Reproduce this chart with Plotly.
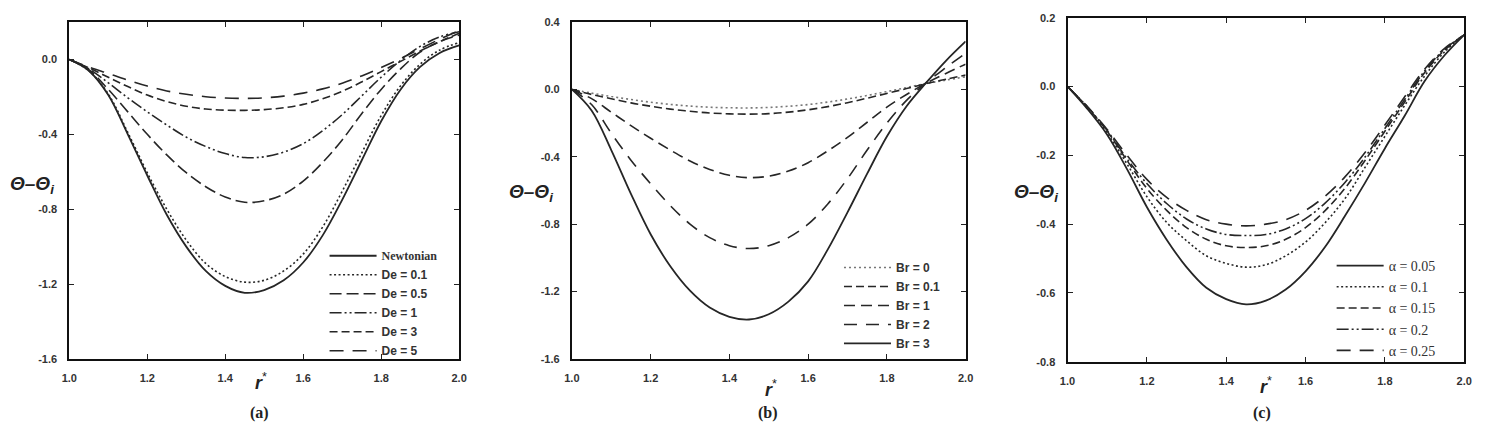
import plotly.graph_objects as go

W, H = 1491, 431

# ---------------- data ----------------
R = [1.0, 1.05, 1.1, 1.15, 1.2, 1.25, 1.3, 1.35, 1.4, 1.45, 1.5,
     1.55, 1.6, 1.65, 1.7, 1.75, 1.8, 1.85, 1.9, 1.95, 2.0]

# panel (a): effect of De
newtonian = [0, -0.06, -0.19, -0.40, -0.62, -0.83, -1.0, -1.13, -1.21, -1.247, -1.232,
             -1.18, -1.085, -0.94, -0.75, -0.54, -0.33, -0.16, -0.04, 0.035, 0.075]
de_01 = [0, -0.06, -0.185, -0.39, -0.605, -0.80, -0.965, -1.09, -1.16, -1.19, -1.18,
         -1.13, -1.04, -0.895, -0.705, -0.50, -0.30, -0.14, -0.025, 0.05, 0.09]
de_05 = [0, -0.055, -0.16, -0.28, -0.40, -0.51, -0.605, -0.68, -0.735, -0.763, -0.755,
         -0.72, -0.65, -0.55, -0.43, -0.29, -0.16, -0.05, 0.04, 0.095, 0.13]
de_1 = [0, -0.05, -0.125, -0.205, -0.28, -0.35, -0.415, -0.465, -0.503, -0.524, -0.52,
        -0.495, -0.45, -0.38, -0.295, -0.195, -0.095, -0.005, 0.07, 0.12, 0.148]
de_3 = [0, -0.045, -0.095, -0.145, -0.19, -0.225, -0.25, -0.265, -0.271, -0.272, -0.268,
        -0.258, -0.24, -0.21, -0.17, -0.12, -0.065, -0.01, 0.045, 0.095, 0.14]
de_5 = [0, -0.04, -0.075, -0.11, -0.142, -0.168, -0.186, -0.199, -0.206, -0.208, -0.205,
        -0.196, -0.18, -0.157, -0.127, -0.088, -0.043, 0.005, 0.057, 0.108, 0.155]

# panel (b): effect of Br
br_0 = [0, -0.022, -0.042, -0.06, -0.076, -0.089, -0.099, -0.106, -0.109, -0.11, -0.107,
        -0.1, -0.09, -0.075, -0.057, -0.036, -0.013, 0.011, 0.035, 0.055, 0.075]
br_01 = [0, -0.03, -0.055, -0.08, -0.1, -0.117, -0.13, -0.14, -0.145, -0.147, -0.144,
         -0.135, -0.121, -0.102, -0.079, -0.052, -0.024, 0.005, 0.035, 0.06, 0.085]
br_1 = [0, -0.055, -0.135, -0.215, -0.29, -0.36, -0.425, -0.475, -0.51, -0.524, -0.515,
        -0.485, -0.435, -0.365, -0.285, -0.195, -0.105, -0.03, 0.037, 0.095, 0.15]
br_2 = [0, -0.09, -0.26, -0.42, -0.56, -0.69, -0.8, -0.88, -0.928, -0.945, -0.928,
        -0.88, -0.8, -0.68, -0.53, -0.36, -0.2, -0.065, 0.04, 0.13, 0.215]
br_3 = [0, -0.125, -0.36, -0.62, -0.86, -1.05, -1.195, -1.295, -1.35, -1.366, -1.335,
        -1.26, -1.14, -0.95, -0.73, -0.50, -0.28, -0.10, 0.04, 0.17, 0.285]

# panel (c): effect of alpha
al_005 = [0, -0.065, -0.14, -0.24, -0.35, -0.445, -0.525, -0.585, -0.618, -0.633, -0.622,
          -0.59, -0.537, -0.465, -0.375, -0.28, -0.18, -0.085, 0.015, 0.09, 0.15]
al_01 = [0, -0.062, -0.135, -0.225, -0.32, -0.395, -0.448, -0.492, -0.514, -0.525, -0.518,
         -0.492, -0.452, -0.395, -0.325, -0.235, -0.145, -0.055, 0.03, 0.1, 0.15]
al_015 = [0, -0.06, -0.13, -0.215, -0.296, -0.36, -0.41, -0.444, -0.463, -0.468, -0.463,
          -0.444, -0.41, -0.36, -0.295, -0.215, -0.13, -0.045, 0.04, 0.105, 0.15]
al_02 = [0, -0.059, -0.128, -0.21, -0.282, -0.34, -0.385, -0.414, -0.43, -0.433, -0.43,
         -0.414, -0.384, -0.338, -0.278, -0.205, -0.122, -0.038, 0.045, 0.108, 0.15]
al_025 = [0, -0.058, -0.125, -0.2, -0.27, -0.322, -0.36, -0.387, -0.40, -0.405, -0.40,
          -0.387, -0.36, -0.318, -0.262, -0.192, -0.112, -0.03, 0.05, 0.11, 0.15]

x_ticks = [1.0, 1.2, 1.4, 1.6, 1.8, 2.0]
ya_ticks = [-1.6, -1.2, -0.8, -0.4, 0.0]
yb_ticks = [-1.6, -1.2, -0.8, -0.4, 0.0, 0.4]
yc_ticks = [-0.8, -0.6, -0.4, -0.2, 0.0, 0.2]

labels_a = ["Newtonian", "De = 0.1", "De = 0.5", "De = 1", "De = 3", "De = 5"]
labels_b = ["Br = 0", "Br = 0.1", "Br = 1", "Br = 2", "Br = 3"]
labels_c = ["α = 0.05", "α = 0.1", "α = 0.15", "α = 0.2", "α = 0.25"]

# ---------------- styles ----------------
LC = "#262626"
SOLID = "solid"
DOT = "2px,2.5px"
DASH_S = "8px,4px"
DASH_M = "11px,6px"
DASH_DD = "12px,3px,2px,3px,2px,3px"

fig = go.Figure()


def add(y, name, dash, ax, legend, color=LC, width=1.6):
    fig.add_trace(go.Scatter(
        x=R, y=y, mode="lines", name=name,
        line=dict(color=color, width=width, dash=dash, shape="spline", smoothing=1.0),
        xaxis="x" + ax, yaxis="y" + ax, legend=legend,
    ))


serif = "Liberation Serif"
sans = "Liberation Sans"

add(newtonian, "<span style='font-family:Liberation Serif'>" + labels_a[0] + "</span>", SOLID, "", "legend", width=1.8)
add(de_01, labels_a[1], DOT, "", "legend")
add(de_05, labels_a[2], "12px,5px", "", "legend")
add(de_1, labels_a[3], DASH_DD, "", "legend")
add(de_3, labels_a[4], DASH_S, "", "legend")
add(de_5, labels_a[5], "14px,9px", "", "legend")

add(br_0, labels_b[0], "2px,3px", "2", "legend2", color="#777")
add(br_01, labels_b[1], DASH_S, "2", "legend2")
add(br_1, labels_b[2], DASH_M, "2", "legend2")
add(br_2, labels_b[3], "13px,9px", "2", "legend2")
add(br_3, labels_b[4], SOLID, "2", "legend2", width=1.8)

add(al_005, labels_c[0], SOLID, "3", "legend3", width=1.8)
add(al_01, labels_c[1], DOT, "3", "legend3")
add(al_015, labels_c[2], DASH_S, "3", "legend3")
add(al_02, labels_c[3], DASH_DD, "3", "legend3")
add(al_025, labels_c[4], "14px,9px", "3", "legend3")


def fmt(v):
    return "%.1f" % v


common = dict(
    showline=True, linecolor="#111", linewidth=2, mirror="ticks",
    ticks="inside", ticklen=5, tickwidth=1, tickcolor="#222",
    showgrid=False, zeroline=False,
    tickfont=dict(family=sans, size=11, color="#333", weight="bold"),
)


def xax(domain, anchor):
    return dict(common, domain=domain, anchor=anchor, range=[1.0, 2.0],
                tickvals=x_ticks, ticktext=[fmt(v) for v in x_ticks], ticklabelstandoff=8)


def yax(domain, anchor, rng, ticks):
    return dict(common, domain=domain, anchor=anchor, range=rng,
                tickvals=ticks, ticktext=[fmt(v) for v in ticks], ticklabelstandoff=8)


ya_dom = [(H - 363) / H, (H - 16.5) / H]
yc_dom = [(H - 366) / H, (H - 12) / H]

legend_common = dict(xanchor="left", yanchor="top", bgcolor="rgba(0,0,0,0)",
                     borderwidth=0, tracegroupgap=0, itemwidth=47)

fig.update_layout(
    width=W, height=H,
    margin=dict(l=0, r=0, t=0, b=0),
    paper_bgcolor="white", plot_bgcolor="white",
    showlegend=True,
    xaxis=xax([62 / W, 456 / W], "y"),
    yaxis=yax(ya_dom, "x", [-1.6, 0.2], ya_ticks),
    xaxis2=xax([570 / W, 968 / W], "y2"),
    yaxis2=yax(ya_dom, "x2", [-1.6, 0.4], yb_ticks),
    xaxis3=xax([1071 / W, 1472 / W], "y3"),
    yaxis3=yax(yc_dom, "x3", [-0.8, 0.2], yc_ticks),
    legend=dict(legend_common, x=320 / W, y=(H - 242) / H,
                font=dict(family=sans, size=12, color="#333", weight="bold")),
    legend2=dict(legend_common, x=840 / W, y=(H - 254) / H,
                 font=dict(family=sans, size=12, color="#333", weight="bold")),
    legend3=dict(legend_common, x=1338 / W, y=(H - 251) / H,
                 font=dict(family=serif, size=14, color="#333")),
)

ytitle = "<i>Θ–Θ<sub>i</sub></i>"
xtitle = "<b><i>r</i></b><sup>*</sup>"
ann = []
for xl, yc in [(0, 184), (504, 192), (1015, 192)]:
    ann.append(dict(text=ytitle, x=xl / W, y=(H - yc) / H, xref="paper", yref="paper",
                    xanchor="left", yanchor="middle", showarrow=False,
                    font=dict(family=sans, size=19, color="#222", weight="bold")))
for xc, yc in [(256, 386), (771, 393), (1272, 390)]:
    ann.append(dict(text=xtitle, x=xc / W, y=(H - yc) / H, xref="paper", yref="paper",
                    xanchor="center", yanchor="middle", showarrow=False,
                    font=dict(family=sans, size=18, color="#222")))
for txt, xc in [("(a)", 254), ("(b)", 768), ("(c)", 1268)]:
    ann.append(dict(text="<b>" + txt + "</b>", x=xc / W, y=1 / H, xref="paper", yref="paper",
                    xanchor="center", yanchor="bottom", showarrow=False,
                    font=dict(family=serif, size=16, color="#222")))
fig.update_layout(annotations=ann)

fig.write_html("out.html")
